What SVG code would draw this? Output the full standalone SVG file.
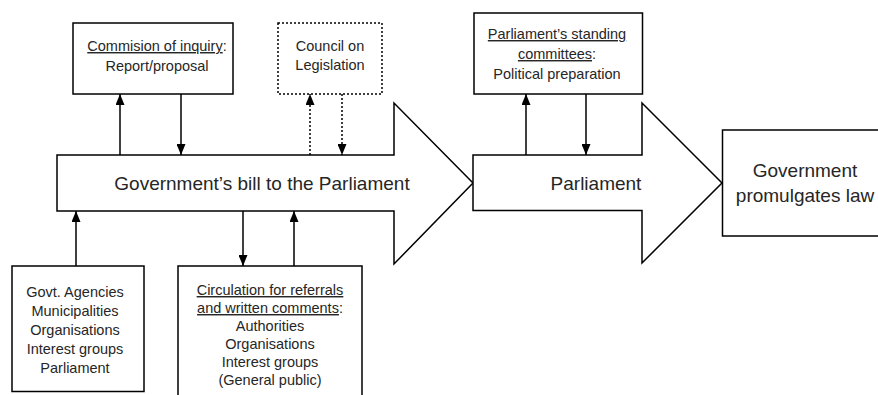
<svg xmlns="http://www.w3.org/2000/svg" width="878" height="395" viewBox="0 0 878 395">
  <style>
    .box { fill: #ffffff; stroke: #000000; stroke-width: 1.5; }
    .dotbox { fill: #ffffff; stroke: #000000; stroke-width: 1.5; stroke-dasharray: 2 2; }
    .t { font-family: "Liberation Sans", Arial, sans-serif; fill: #262626; text-anchor: middle; }
    .s { font-size: 14.5px; }
    .b { font-size: 19px; }
    .u { text-decoration: underline; }
    .con { stroke: #000000; stroke-width: 1.5; fill: none; marker-end: url(#ah); }
    .dot { stroke-dasharray: 2 2; }
  </style>
  <defs>
    <marker id="ah" markerUnits="userSpaceOnUse" markerWidth="12" markerHeight="9" refX="11" refY="4.5" orient="auto">
      <path d="M0,0 L11,4.5 L0,9 z" fill="#000000"/>
    </marker>
  </defs>

  <g id="bill">
    <polygon class="box" points="57,155 394,155 394,103 473,183 394,264 394,211 57,211"/>
    <text class="t b" x="262" y="190">Government’s bill to the Parliament</text>
  </g>

  <g id="parliament">
    <polygon class="box" points="473,155 642,155 642,103 722,183 642,263 642,210.5 473,210.5"/>
    <text class="t b" x="596" y="190">Parliament</text>
  </g>

  <g id="promulgates">
    <rect class="box" x="722.5" y="130" width="200" height="106"/>
    <text class="t b" x="805" y="177">Government</text>
    <text class="t b" x="805" y="202">promulgates law</text>
  </g>

  <g id="commission">
    <rect class="box" x="73" y="23" width="160" height="71"/>
    <text class="t s" x="157" y="51"><tspan class="u">Commision of inquiry</tspan>:</text>
    <text class="t s" x="157" y="71">Report/proposal</text>
  </g>

  <g id="council">
    <rect class="dotbox" x="278" y="23" width="104" height="71"/>
    <text class="t s" x="330" y="51">Council on</text>
    <text class="t s" x="330" y="70">Legislation</text>
  </g>

  <g id="committees">
    <rect class="box" x="474" y="13" width="168.5" height="81"/>
    <text class="t s" x="557" y="39"><tspan class="u">Parliament’s standing</tspan></text>
    <text class="t s" x="557" y="59"><tspan class="u">committees</tspan>:</text>
    <text class="t s" x="557" y="79">Political preparation</text>
  </g>

  <g id="agencies">
    <rect class="box" x="12" y="266" width="132" height="125.5"/>
    <text class="t s" x="75" y="297">Govt. Agencies</text>
    <text class="t s" x="75" y="316">Municipalities</text>
    <text class="t s" x="75" y="335">Organisations</text>
    <text class="t s" x="75" y="354">Interest groups</text>
    <text class="t s" x="75" y="373">Parliament</text>
  </g>

  <g id="circulation">
    <rect class="box" x="178" y="266" width="184" height="140"/>
    <text class="t s" x="270" y="295"><tspan class="u">Circulation for referrals</tspan></text>
    <text class="t s" x="270" y="313"><tspan class="u">and written comments</tspan>:</text>
    <text class="t s" x="270" y="331">Authorities</text>
    <text class="t s" x="270" y="349">Organisations</text>
    <text class="t s" x="270" y="367">Interest groups</text>
    <text class="t s" x="270" y="385">(General public)</text>
  </g>

  <g id="connectors">
    <line class="con" x1="120" y1="155" x2="120" y2="94"/>
    <line class="con" x1="181" y1="94" x2="181" y2="155"/>
    <line class="con dot" x1="310" y1="155" x2="310" y2="94"/>
    <line class="con dot" x1="342" y1="94" x2="342" y2="155"/>
    <line class="con" x1="526" y1="155" x2="526" y2="94"/>
    <line class="con" x1="586" y1="94" x2="586" y2="155"/>
    <line class="con" x1="76" y1="266" x2="76" y2="211"/>
    <line class="con" x1="243" y1="211" x2="243" y2="266"/>
    <line class="con" x1="294" y1="266" x2="294" y2="211"/>
  </g>
</svg>
